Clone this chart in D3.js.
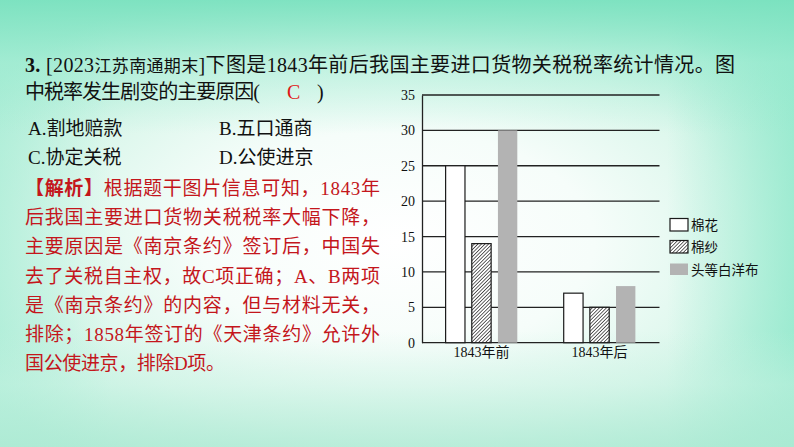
<!DOCTYPE html>
<html>
<head>
<meta charset="utf-8">
<script src="https://cdn.jsdelivr.net/npm/d3@7"></script>
<style>
  html, body { margin: 0; padding: 0; }
  body {
    width: 794px; height: 447px; overflow: hidden;
    background:
      linear-gradient(180deg, rgba(120,225,190,0.9) 0%, rgba(150,234,206,0.45) 14%, rgba(255,255,255,0) 30%),
      linear-gradient(0deg, rgba(175,234,212,0.75) 0%, rgba(200,242,226,0.45) 14%, rgba(255,255,255,0) 26%),
      linear-gradient(90deg, rgba(165,236,212,0.55) 0%, rgba(255,255,255,0) 14%, rgba(255,255,255,0) 84%, rgba(140,232,202,0.7) 100%),
      radial-gradient(ellipse 62% 62% at 50% 54%, #ffffff 0%, #f6fdfa 40%, #dcf7ec 70%, #b3eed9 100%);
  }
  svg { display: block; }
</style>
</head>
<body>
<svg id="page" width="794" height="447"></svg>
<script>
// ─── Data ─────────────────────────────────────────────────────────────────────
const groups   = ['1843年前', '1843年后'];
const series   = ['棉花', '棉纱', '头等白洋布'];
const cotton   = [25, 7];
const yarn     = [14, 5];
const cloth    = [30, 8];
const yTicks   = [0, 5, 10, 15, 20, 25, 30, 35];

const question = '中税率发生剧变的主要原因(';
const options  = [['A.割地赔款', 'B.五口通商'], ['C.协定关税', 'D.公使进京']];
const analysis = [
  '根据题干图片信息可知，1843年',
  '后我国主要进口货物关税税率大幅下降，',
  '主要原因是《南京条约》签订后，中国失',
  '去了关税自主权，故C项正确；A、B两项',
  '是《南京条约》的内容，但与材料无关，',
  '排除；1858年签订的《天津条约》允许外',
  '国公使进京，排除D项。'
];

const svg = d3.select('#page');
const FONT = '"Liberation Serif", "Noto Sans CJK SC", serif';
const RED  = '#c4161c';

// ─── Question text ────────────────────────────────────────────────────────────
const q1 = svg.append('text')
  .attr('x', 25).attr('y', 72)
  .attr('font-family', FONT).attr('font-size', 20).attr('fill', '#111')
  .attr('textLength', 710).attr('lengthAdjust', 'spacing');
q1.append('tspan').attr('font-weight', 700).text('3. ');
q1.append('tspan').text('[2023');
q1.append('tspan').attr('font-size', 17).text('江苏南通期末');
q1.append('tspan').text(']下图是1843年前后我国主要进口货物关税税率统计情况。图');

svg.append('text')
  .attr('x', 25).attr('y', 99)
  .attr('font-family', FONT).attr('font-size', 20).attr('fill', '#111')
  .attr('textLength', 235).attr('lengthAdjust', 'spacing')
  .text(question);
svg.append('text').attr('x', 287).attr('y', 99)
  .attr('font-family', FONT).attr('font-size', 20).attr('fill', '#e01818').text('C');
svg.append('text').attr('x', 317).attr('y', 99)
  .attr('font-family', FONT).attr('font-size', 20).attr('fill', '#111').text(')');

options.forEach((row, i) => {
  row.forEach((t, j) => {
    svg.append('text')
      .attr('x', j ? 219 : 28).attr('y', 135 + i * 29)
      .attr('font-family', FONT).attr('font-size', 19).attr('fill', '#111')
      .text(t);
  });
});

// ─── Analysis (red) ───────────────────────────────────────────────────────────
analysis.forEach((t, i) => {
  const tx = svg.append('text')
    .attr('x', 25).attr('y', 195 + i * 29.2)
    .attr('font-family', FONT).attr('font-size', 19).attr('fill', RED)
    .attr('textLength', i < 6 ? 355 : 200).attr('lengthAdjust', 'spacing');
  if (i === 0) tx.append('tspan').attr('font-weight', 700).text('【解析】');
  tx.append('tspan').text(t);
});

// ─── Chart ────────────────────────────────────────────────────────────────────
const x0 = d3.scaleBand().domain(groups).range([422, 659]).paddingInner(0.393).paddingOuter(0.2);
const x1 = d3.scaleBand().domain(series).range([0, x0.bandwidth()]).paddingInner(0.26);
const y  = d3.scaleLinear().domain([0, 35]).range([342.7, 95]);

const defs = svg.append('defs');
defs.append('pattern')
  .attr('id', 'hatch')
  .attr('patternUnits', 'userSpaceOnUse')
  .attr('width', 2.5).attr('height', 2.5)
  .attr('patternTransform', 'rotate(45)')
  .call(p => {
    p.append('rect').attr('width', 2.5).attr('height', 2.5).attr('fill', '#fff');
    p.append('line').attr('x1', 0).attr('y1', 0).attr('x2', 0).attr('y2', 2.5)
      .attr('stroke', '#111').attr('stroke-width', 1.3);
  });

const fills   = { '棉花': '#ffffff', '棉纱': 'url(#hatch)', '头等白洋布': '#b3b3b3' };
const strokes = { '棉花': '#1a1a1a', '棉纱': '#1a1a1a', '头等白洋布': 'none' };
const values  = { '棉花': cotton, '棉纱': yarn, '头等白洋布': cloth };

const chart = svg.append('g');

// gridlines
chart.append('g')
  .selectAll('line')
  .data(yTicks)
  .join('line')
  .attr('x1', 422).attr('x2', 659.5)
  .attr('y1', d => y(d)).attr('y2', d => y(d))
  .attr('stroke', '#222').attr('stroke-width', 1.3);

// left axis
const yAxis = chart.append('g')
  .attr('transform', 'translate(422,0)')
  .call(d3.axisLeft(y).tickValues(yTicks).tickSize(0).tickPadding(7));
yAxis.select('.domain').attr('stroke', '#222').attr('stroke-width', 1.3);
yAxis.selectAll('text')
  .attr('font-family', '"Liberation Serif", serif').attr('font-size', 14).attr('fill', '#111');

// bars
chart.append('g')
  .selectAll('g')
  .data(groups)
  .join('g')
  .attr('transform', g => `translate(${x0(g)},0)`)
  .selectAll('rect')
  .data((g, gi) => series.map(s => ({ s, v: values[s][gi] })))
  .join('rect')
  .attr('x', d => x1(d.s))
  .attr('width', x1.bandwidth())
  .attr('y', d => y(d.v))
  .attr('height', d => y(0) - y(d.v))
  .attr('fill', d => fills[d.s])
  .attr('stroke', d => strokes[d.s])
  .attr('stroke-width', 1.2);

// category labels
const xAxis = chart.append('g')
  .attr('transform', `translate(0,${y(0)})`)
  .call(d3.axisBottom(x0).tickSize(0).tickPadding(4));
xAxis.select('.domain').remove();
xAxis.selectAll('text')
  .attr('font-family', FONT).attr('font-size', 14).attr('fill', '#111');

// legend
const legend = svg.append('g')
  .selectAll('g')
  .data(series)
  .join('g')
  .attr('transform', (d, i) => `translate(670,${[218.5, 240.5, 263.5][i]})`);
legend.append('rect')
  .attr('width', 18).attr('height', d => d === '头等白洋布' ? 11.5 : 12.5)
  .attr('fill', d => fills[d])
  .attr('stroke', d => strokes[d])
  .attr('stroke-width', 1.2);
legend.append('text')
  .attr('x', 21).attr('y', 11)
  .attr('font-family', '"Noto Sans CJK SC", sans-serif').attr('font-size', 13.5)
  .attr('fill', '#111')
  .text(d => d);
</script>
</body>
</html>
